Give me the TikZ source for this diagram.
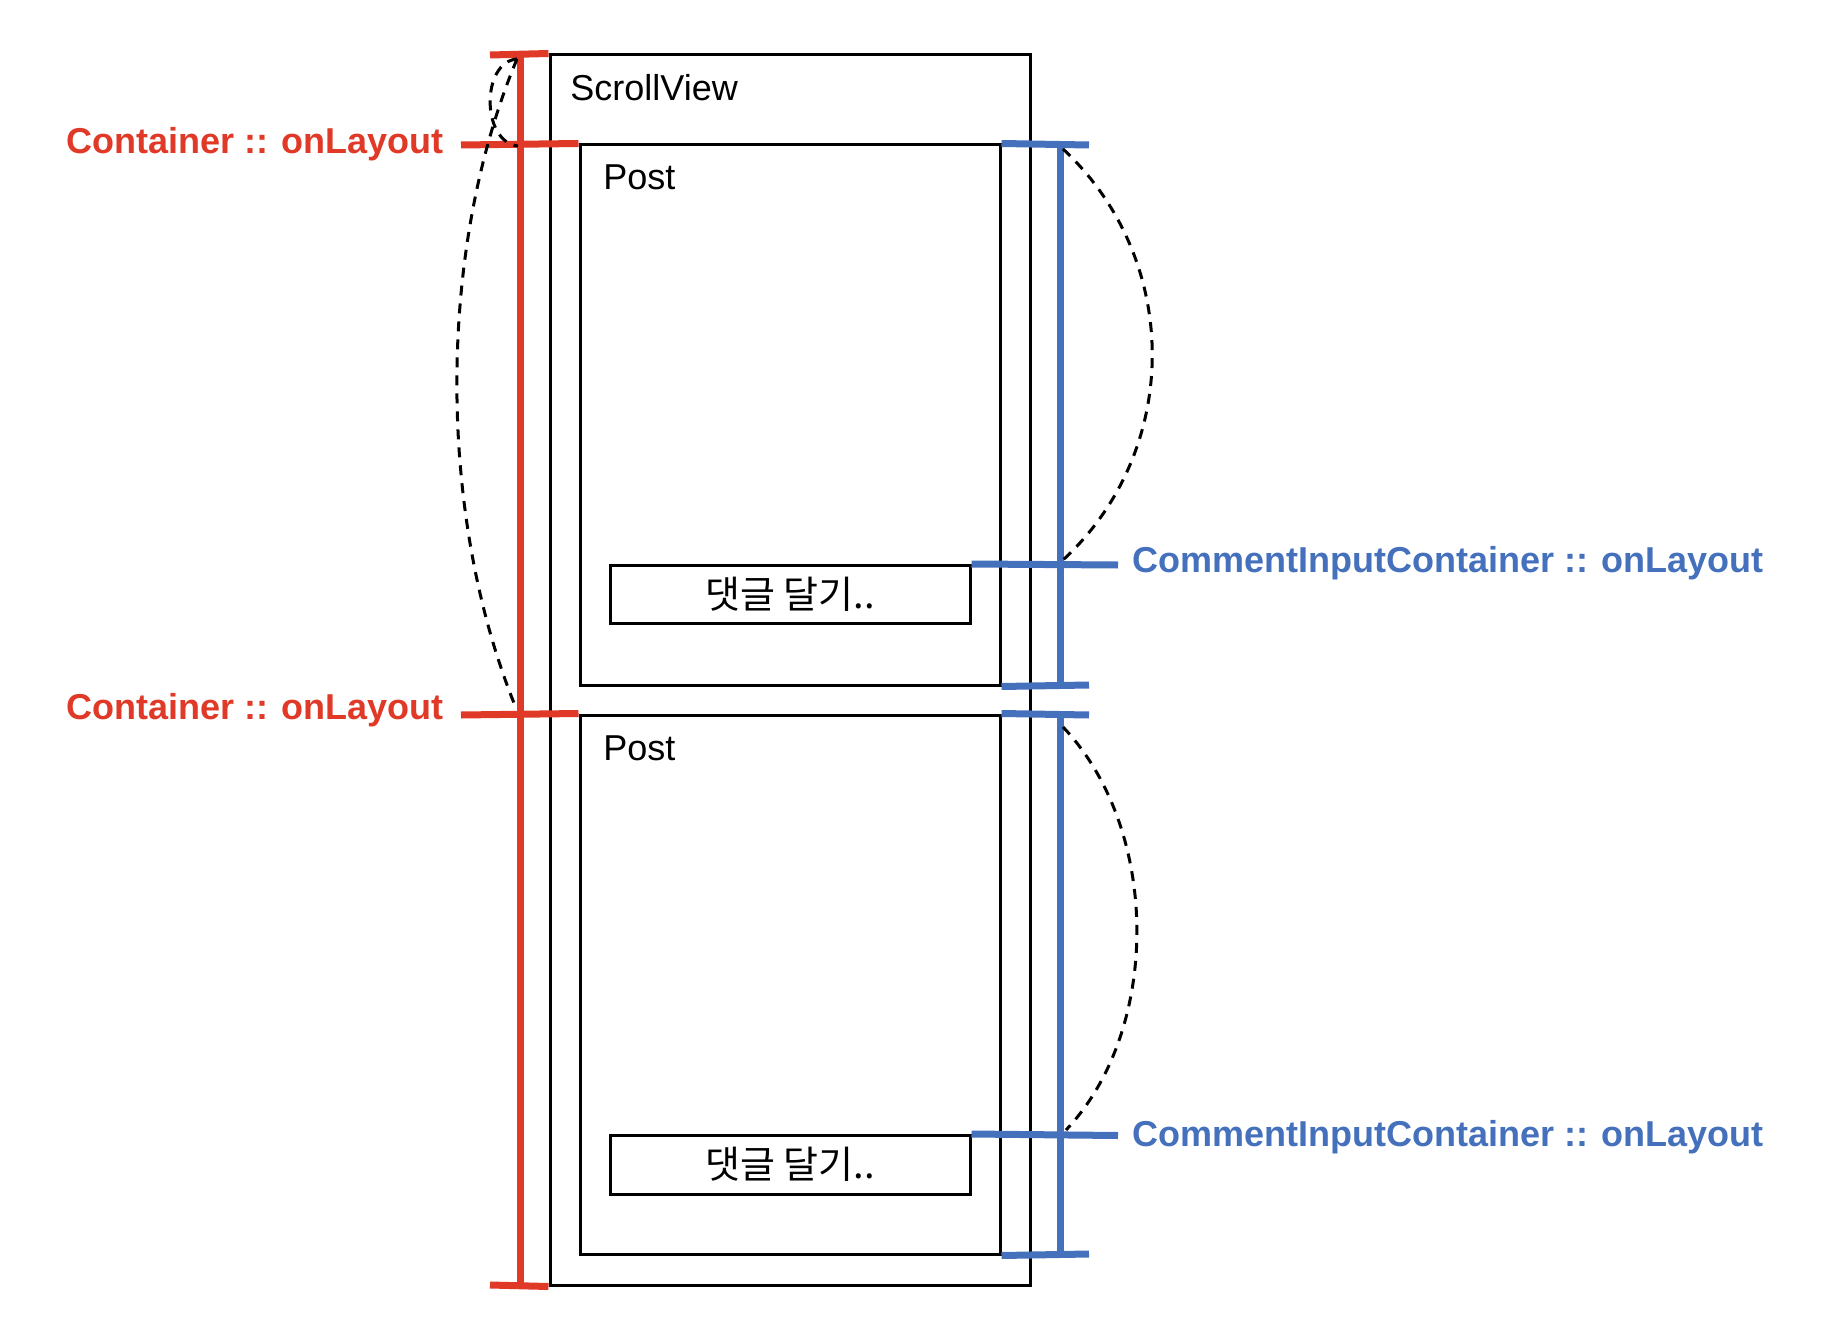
\documentclass[tikz,border=0pt]{standalone}
\usepackage{fontspec}
\setmainfont{Liberation Sans}
\newfontfamily\krfont{Noto Sans CJK KR}
\definecolor{cred}{RGB}{224,57,39}
\definecolor{cblue}{RGB}{68,112,188}
\begin{document}
\begin{tikzpicture}[x=0.5pt,y=-0.5pt,
  box/.style={draw=black,line width=1.5pt,inner sep=0pt,rectangle},
  redline/.style={draw=cred,line width=3.5pt},
  blueline/.style={draw=cblue,line width=3.5pt},
  dcurve/.style={draw=black,line width=1.5pt,dash pattern=on 5pt off 4pt},
  txt/.style={inner sep=0pt,font=\fontsize{18}{22}\selectfont},
  redlab/.style={txt,text=cred,font=\fontsize{18}{22}\selectfont\bfseries,anchor=base east},
  bluelab/.style={txt,text=cblue,font=\fontsize{18}{22}\selectfont\bfseries,anchor=base west}]
\useasboundingbox (0,0) rectangle (1821,1332);
% boxes
\node[box,minimum width=240pt,minimum height=615pt] (sv) at (790,670) {};
\node[box,minimum width=210pt,minimum height=270pt] (post1) at (790,415) {};
\node[box,minimum width=210pt,minimum height=269.5pt] (post2) at (790,984.5) {};
\node[box,minimum width=180pt,minimum height=29pt] (cm1) at (790,594.5) {};
\node[box,minimum width=180pt,minimum height=29.5pt] (cm2) at (790,1165) {};
\node[txt,anchor=center,font=\fontsize{19}{23}\selectfont] (cmt1) at (790,594) {\krfont 댓글 달기..};
\node[txt,anchor=center,font=\fontsize{19}{23}\selectfont] (cmt2) at (790,1164) {\krfont 댓글 달기..};
\node[txt,anchor=base west] (svt) at (570,100.5) {ScrollView};
\node[txt,anchor=base west] (pt1) at (603,190) {Post};
\node[txt,anchor=base west] (pt2) at (603,760) {Post};
% red bar
\coordinate (rT) at (520,55);
\coordinate (rB) at (520,1285);
\coordinate (rTl) at (490,55);
\coordinate (rBl) at (490,1285);
\coordinate (rM1l) at (461,145);
\coordinate (rM2l) at (461,715);
\draw[redline] (rT) -- (rB);
\draw[redline] (rTl) -- (sv.north west);
\draw[redline] (rBl) -- (sv.south west);
\draw[redline] (rM1l) -- (post1.north west);
\draw[redline] (rM2l) -- (post2.north west);
\node[redlab] (rl1) at (444,154) {Container :: onLayout};
\node[redlab] (rl2) at (444,719) {Container :: onLayout};
% blue bars
\coordinate (b1T) at (1060,145);
\coordinate (b1B) at (1060,685);
\coordinate (b1Tr) at (1089,145);
\coordinate (b1Br) at (1089,685);
\coordinate (b1M) at (1118,565);
\coordinate (b2T) at (1060,715);
\coordinate (b2B) at (1060,1254);
\coordinate (b2Tr) at (1089,715);
\coordinate (b2Br) at (1089,1254);
\coordinate (b2M) at (1118,1135.5);
\draw[blueline] (b1T) -- (b1B);
\draw[blueline] (post1.north east) -- (b1Tr);
\draw[blueline] (post1.south east) -- (b1Br);
\draw[blueline] (cm1.north east) -- (b1M);
\draw[blueline] (b2T) -- (b2B);
\draw[blueline] (post2.north east) -- (b2Tr);
\draw[blueline] (post2.south east) -- (b2Br);
\draw[blueline] (cm2.north east) -- (b2M);
\node[bluelab] (bl1) at (1132,572) {CommentInputContainer :: onLayout};
\node[bluelab] (bl2) at (1132,1146) {CommentInputContainer :: onLayout};
% dashed curves
\coordinate (dA) at (517,59);
\coordinate (dB) at (518,146);
\coordinate (dC) at (516,708);
\draw[dcurve] (dA) .. controls (481,62) and (481,142) .. (dB);
\draw[dcurve] (dA) .. controls (437,250) and (437,515) .. (dC);
\coordinate (dD) at (1063,149);
\coordinate (dE) at (1063,560);
\coordinate (dF) at (1063,727);
\coordinate (dG) at (1066,1130);
\draw[dcurve] (dD) .. controls (1182,260) and (1182,450) .. (dE);
\draw[dcurve] (dF) .. controls (1161,830) and (1161,1030) .. (dG);
\end{tikzpicture}
\end{document}
